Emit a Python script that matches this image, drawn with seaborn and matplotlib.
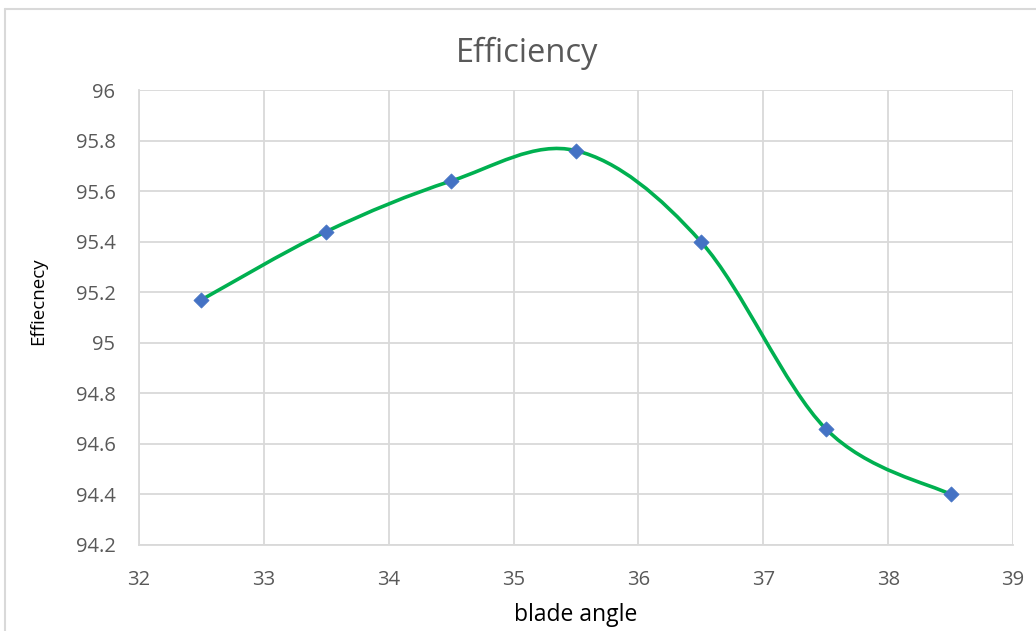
import numpy as np
import pandas as pd
import matplotlib
matplotlib.use("Agg")
import matplotlib.pyplot as plt
from matplotlib.path import Path
from matplotlib.patches import PathPatch
from matplotlib.lines import Line2D
import seaborn as sns

blade_angle = [32.5, 33.5, 34.5, 35.5, 36.5, 37.5, 38.5]
efficiency = [95.17, 95.44, 95.64, 95.76, 95.40, 94.66, 94.40]
x_ticks = [32, 33, 34, 35, 36, 37, 38, 39]
y_ticks = [94.2, 94.4, 94.6, 94.8, 95.0, 95.2, 95.4, 95.6, 95.8, 96.0]
y_tick_labels = ["94.2", "94.4", "94.6", "94.8", "95", "95.2", "95.4", "95.6", "95.8", "96"]

df = pd.DataFrame({"blade angle": blade_angle, "Effiecnecy": efficiency})

sns.set_theme(style="white")
plt.rcParams["font.family"] = ["Open Sans", "DejaVu Sans"]

W, H = 1036, 631
fig = plt.figure(figsize=(W / 100, H / 100), dpi=100)
ax = fig.add_axes([139 / W, 1 - 545 / H, (1013 - 139) / W, (545 - 90) / H])

ax.set_xlim(32, 39)
ax.set_ylim(94.2, 96)

# smoothed connecting curve (cubic Bezier segments, Catmull-Rom style tangents)
xs = np.array(blade_angle)
ys = np.array(efficiency)
n = len(xs)
verts = [(xs[0], ys[0])]
codes = [Path.MOVETO]
for i in range(n - 1):
    p0 = np.array([xs[max(i - 1, 0)], ys[max(i - 1, 0)]])
    p1 = np.array([xs[i], ys[i]])
    p2 = np.array([xs[i + 1], ys[i + 1]])
    p3 = np.array([xs[min(i + 2, n - 1)], ys[min(i + 2, n - 1)]])
    c1 = p1 + (p2 - p0) / 6.0
    c2 = p2 - (p3 - p1) / 6.0
    verts += [tuple(c1), tuple(c2), tuple(p2)]
    codes += [Path.CURVE4, Path.CURVE4, Path.CURVE4]
curve = PathPatch(Path(verts, codes), facecolor="none", edgecolor="#00b050",
                  linewidth=2.6, zorder=3, capstyle="round")
ax.add_patch(curve)

sns.scatterplot(data=df, x="blade angle", y="Effiecnecy", ax=ax, marker="D",
                s=60, color="#4472c4", edgecolor="#4472c4", linewidth=0.5, zorder=4)

ax.set_xticks(x_ticks)
ax.set_yticks(y_ticks)
ax.set_yticklabels(y_tick_labels)
ax.grid(True, color="#d9d9d9", linewidth=1.3)
ax.set_axisbelow(True)
for side in ["top", "right"]:
    ax.spines[side].set_visible(False)
for side in ["left", "bottom"]:
    ax.spines[side].set_color("#d9d9d9")
    ax.spines[side].set_linewidth(1.3)
ax.tick_params(axis="both", length=0, labelsize=14.5, labelcolor="#595959")
ax.tick_params(axis="x", pad=18)
ax.tick_params(axis="y", pad=17)

ax.set_xlabel("")
ax.set_ylabel("")
fig.text(576 / W, 1 - 615 / H, "blade angle", fontsize=16.5, color="#000000",
         ha="center", va="center")
fig.text(38 / W, 1 - 301 / H, "Effiecnecy", fontsize=13.5, color="#000000",
         ha="center", va="center", rotation=90)
fig.text(527 / W, 1 - 53 / H, "Efficiency", fontsize=23.5, color="#595959",
         ha="center", va="center")

# chart frame edges
fig.add_artist(Line2D([5 / W, 5 / W], [0, 1 - 9 / H], color="#d9d9d9", linewidth=1.5))
fig.add_artist(Line2D([5 / W, 1], [1 - 9 / H, 1 - 9 / H], color="#d9d9d9", linewidth=1.5))

fig.savefig("out.png", dpi=100, facecolor="white")
